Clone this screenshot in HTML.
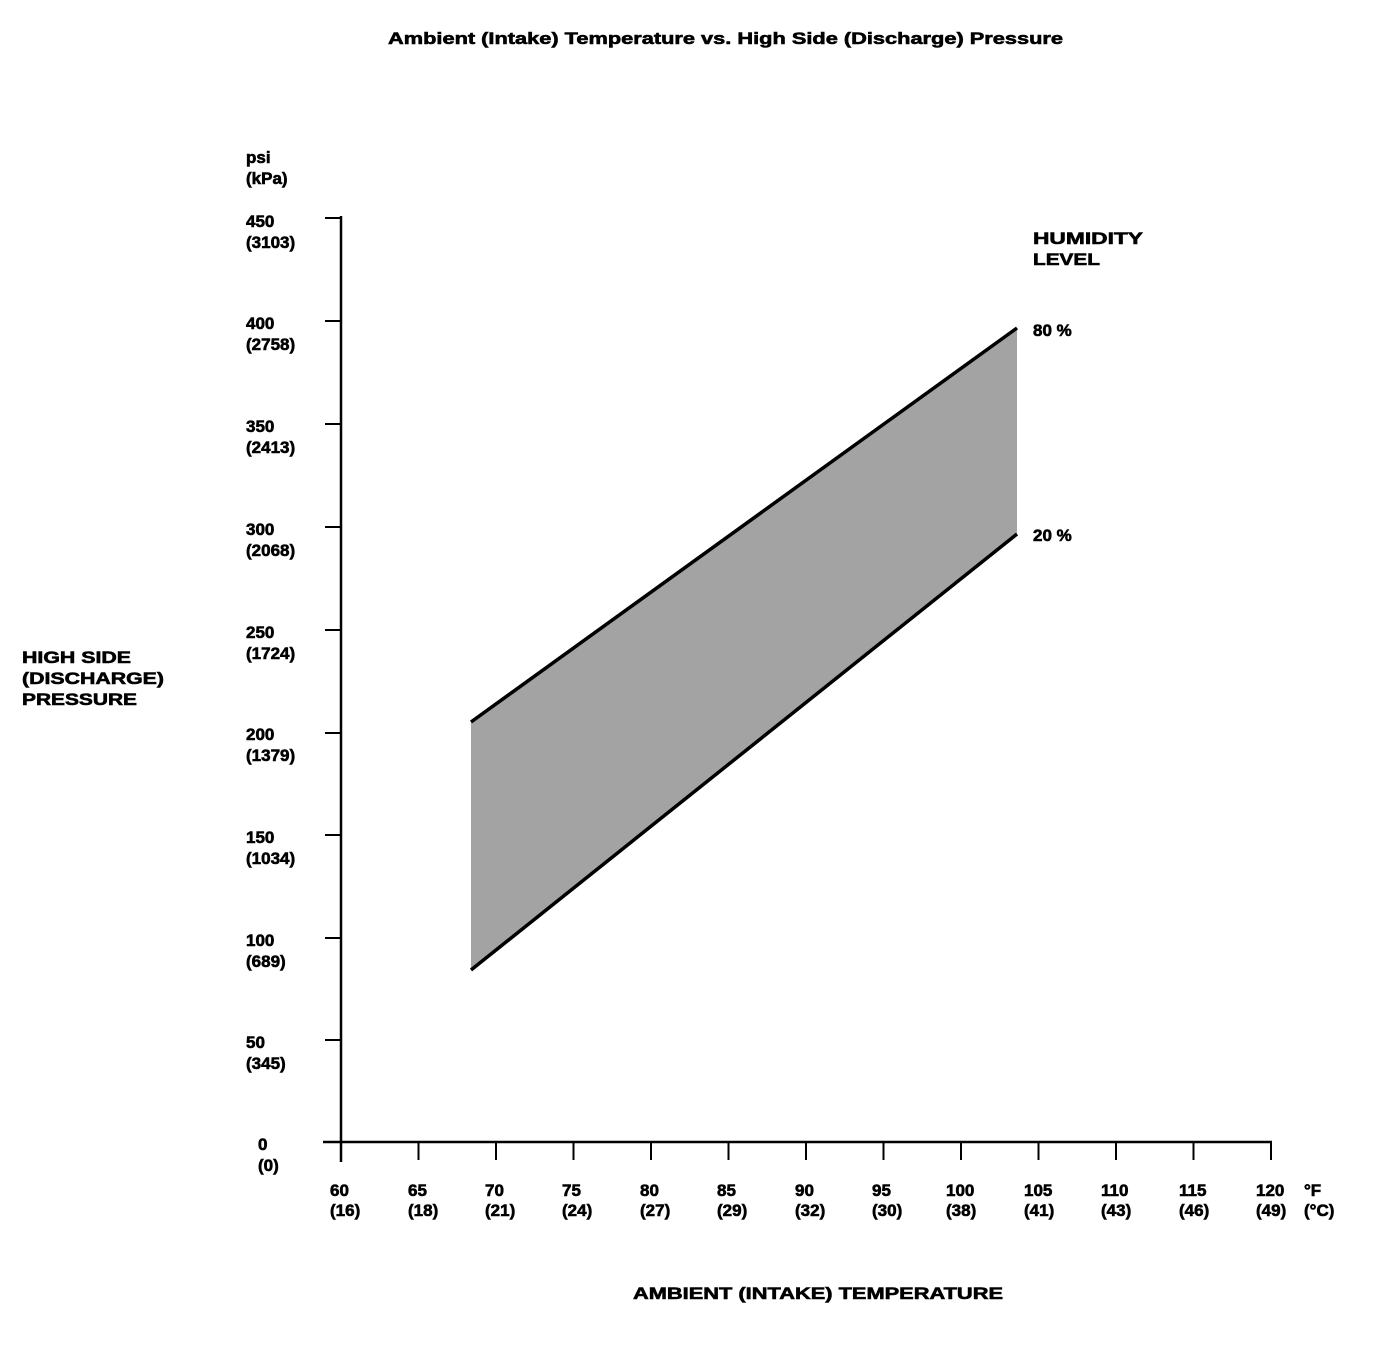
<!DOCTYPE html>
<html><head><meta charset="utf-8"><style>
html,body{margin:0;padding:0;background:#fff;}
svg text{font-family:"Liberation Sans",sans-serif;font-weight:bold;font-size:17px;fill:#000;stroke:#000;stroke-width:0.6;}
</style></head><body>
<svg width="1376" height="1346" viewBox="0 0 1376 1346" xmlns="http://www.w3.org/2000/svg">
<text x="388" y="44" font-size="17" textLength="675" lengthAdjust="spacingAndGlyphs">Ambient (Intake) Temperature vs. High Side (Discharge) Pressure</text>
<text x="246" y="163">psi</text>
<text x="246" y="184">(kPa)</text>
<text x="22" y="663" textLength="109" lengthAdjust="spacingAndGlyphs">HIGH SIDE</text>
<text x="22" y="684" textLength="142" lengthAdjust="spacingAndGlyphs">(DISCHARGE)</text>
<text x="22" y="705" textLength="115" lengthAdjust="spacingAndGlyphs">PRESSURE</text>
<text x="1033" y="244" textLength="110" lengthAdjust="spacingAndGlyphs">HUMIDITY</text>
<text x="1033" y="265" textLength="67" lengthAdjust="spacingAndGlyphs">LEVEL</text>
<text x="1033" y="336">80 %</text>
<text x="1033" y="541">20 %</text>
<polygon points="471,722 1017,328 1017,534 471,970" fill="#a3a3a3"/>
<line x1="471" y1="722" x2="1017" y2="328" stroke="#000" stroke-width="3.5"/>
<line x1="471" y1="970" x2="1017" y2="534" stroke="#000" stroke-width="3.5"/>
<line x1="341" y1="216" x2="341" y2="1162" stroke="#000" stroke-width="2.5"/>
<line x1="323" y1="1142" x2="1272" y2="1142" stroke="#000" stroke-width="2.5"/>
<g stroke="#000" stroke-width="2">
<line x1="325" y1="218" x2="341" y2="218"/>
<line x1="325" y1="321" x2="341" y2="321"/>
<line x1="325" y1="424" x2="341" y2="424"/>
<line x1="325" y1="527" x2="341" y2="527"/>
<line x1="325" y1="630" x2="341" y2="630"/>
<line x1="325" y1="733" x2="341" y2="733"/>
<line x1="325" y1="835" x2="341" y2="835"/>
<line x1="325" y1="938" x2="341" y2="938"/>
<line x1="325" y1="1040" x2="341" y2="1040"/>
<line x1="418.5" y1="1142" x2="418.5" y2="1160"/>
<line x1="496" y1="1142" x2="496" y2="1160"/>
<line x1="573.5" y1="1142" x2="573.5" y2="1160"/>
<line x1="651" y1="1142" x2="651" y2="1160"/>
<line x1="728.5" y1="1142" x2="728.5" y2="1160"/>
<line x1="806" y1="1142" x2="806" y2="1160"/>
<line x1="883.5" y1="1142" x2="883.5" y2="1160"/>
<line x1="961" y1="1142" x2="961" y2="1160"/>
<line x1="1038.5" y1="1142" x2="1038.5" y2="1160"/>
<line x1="1116" y1="1142" x2="1116" y2="1160"/>
<line x1="1193.5" y1="1142" x2="1193.5" y2="1160"/>
<line x1="1271" y1="1142" x2="1271" y2="1160"/>
</g>
<g>
<text x="246" y="227">450</text><text x="246" y="248">(3103)</text>
<text x="246" y="329">400</text><text x="246" y="350">(2758)</text>
<text x="246" y="432">350</text><text x="246" y="453">(2413)</text>
<text x="246" y="535">300</text><text x="246" y="556">(2068)</text>
<text x="246" y="638">250</text><text x="246" y="659">(1724)</text>
<text x="246" y="740">200</text><text x="246" y="761">(1379)</text>
<text x="246" y="843">150</text><text x="246" y="864">(1034)</text>
<text x="246" y="946">100</text><text x="246" y="967">(689)</text>
<text x="246" y="1048">50</text><text x="246" y="1069">(345)</text>
<text x="258" y="1150">0</text><text x="258" y="1171">(0)</text>
</g>
<g>
<text x="330" y="1196">60</text><text x="330" y="1216">(16)</text>
<text x="408" y="1196">65</text><text x="408" y="1216">(18)</text>
<text x="485" y="1196">70</text><text x="485" y="1216">(21)</text>
<text x="562" y="1196">75</text><text x="562" y="1216">(24)</text>
<text x="640" y="1196">80</text><text x="640" y="1216">(27)</text>
<text x="717" y="1196">85</text><text x="717" y="1216">(29)</text>
<text x="795" y="1196">90</text><text x="795" y="1216">(32)</text>
<text x="872" y="1196">95</text><text x="872" y="1216">(30)</text>
<text x="946" y="1196">100</text><text x="946" y="1216">(38)</text>
<text x="1024" y="1196">105</text><text x="1024" y="1216">(41)</text>
<text x="1101" y="1196">110</text><text x="1101" y="1216">(43)</text>
<text x="1179" y="1196">115</text><text x="1179" y="1216">(46)</text>
<text x="1256" y="1196">120</text><text x="1256" y="1216">(49)</text>
<text x="1304" y="1196">°F</text><text x="1304" y="1216">(°C)</text>
</g>
<text x="633" y="1299" textLength="370" lengthAdjust="spacingAndGlyphs">AMBIENT (INTAKE) TEMPERATURE</text>
</svg>
</body></html>
